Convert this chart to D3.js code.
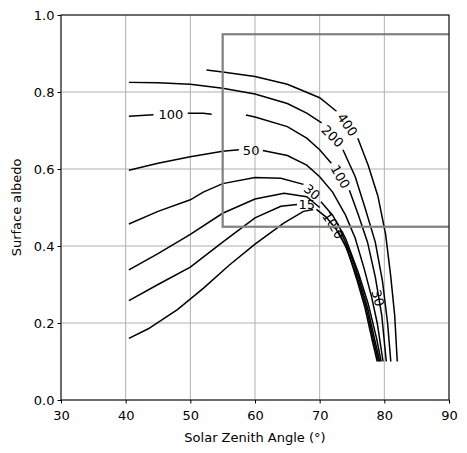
<!DOCTYPE html>
<html>
<head>
<meta charset="utf-8">
<script src="https://cdn.jsdelivr.net/npm/d3@7"></script>
<style>
  body { margin: 0; background: #fff; }
  text { font-family: "DejaVu Sans", sans-serif; }
</style>
</head>
<body>
<svg id="chart" width="467" height="453"></svg>
<script>
var xTicks = [30, 40, 50, 60, 70, 80, 90];
var yTicks = [0.0, 0.2, 0.4, 0.6, 0.8, 1.0];

// contour segments (gaps where inline labels sit)
var c400 = [[52.5,0.857],[55,0.852],[60,0.84],[65,0.82],[70,0.785],[72.6,0.75]];
var c400b = [[75.9,0.68],[77.5,0.61],[79,0.53],[80.2,0.43],[81,0.32],[81.6,0.22],[82.0,0.1]];
var c200 = [[40.5,0.825],[45,0.824],[50,0.82],[55,0.81],[60,0.795],[65,0.77],[68,0.745],[70.3,0.72]];
var c200b = [[73.6,0.65],[75.5,0.58],[77,0.5],[78.6,0.41],[79.7,0.31],[80.5,0.2],[81.0,0.1]];
var c100a = [[40.5,0.737],[44.3,0.741]];
var c100b = [[49.6,0.745],[52,0.745],[53.3,0.742]];
var c100c = [[58.6,0.74],[60,0.735],[65,0.71],[68,0.68],[70,0.65],[71.8,0.615]];
var c100d = [[74.6,0.545],[76,0.48],[77.4,0.41],[78.6,0.32],[79.6,0.22],[80.3,0.1]];
var c50 = [[40.5,0.597],[45,0.615],[50,0.632],[55,0.646],[57.5,0.65]];
var c50b = [[61.2,0.648],[65,0.635],[68,0.61],[70,0.58],[72,0.54],[74,0.48],[75.5,0.42],[76.9,0.34],[78.0,0.27],[78.9,0.2],[79.8,0.1]];
var c30 = [[40.5,0.457],[45,0.49],[50,0.52],[52,0.54],[55,0.562],[60,0.578],[64,0.576],[67.5,0.56]];
var c30b = [[70.2,0.515],[72,0.48],[74,0.42],[76,0.33],[77.5,0.25],[78.8,0.16],[79.5,0.1]];
var c15 = [[40.5,0.338],[45,0.38],[50,0.43],[55,0.485],[60,0.522],[64.5,0.537],[68,0.528],[70,0.5]];
var c15b = [[73.2,0.44],[74.5,0.39],[76,0.32],[77.4,0.24],[78.6,0.15],[79.3,0.1]];
var c10 = [[40.5,0.258],[45,0.3],[50,0.345],[55,0.41],[60,0.473],[64,0.503],[66.5,0.508]];
var c10b = [[69.5,0.495],[71,0.475],[72.5,0.445],[74,0.4],[75.8,0.32],[77.2,0.24],[78.4,0.15],[79.1,0.1]];
var c5 = [[40.5,0.16],[43.5,0.185],[48,0.235],[52,0.29],[56,0.35],[60,0.405],[64.5,0.46],[67.5,0.49],[69,0.495]];
var c5b = [[72.8,0.44],[74.3,0.39],[75.8,0.31],[77.0,0.24],[78.2,0.15],[78.9,0.1]];
var segments = [c400, c400b, c200, c200b, c100a, c100b, c100c, c100d, c50, c50b,
  c30, c30b, c15, c15b, c10, c10b, c5, c5b];

var labelText = ["400", "200", "100", "100", "50", "30", "15", "10", "20", "30"];
var labelX = [74.3, 72.0, 47.0, 73.2, 59.4, 68.8, 68.0, 71.6, 72.6, 79.0];
var labelY = [0.715, 0.685, 0.742, 0.58, 0.649, 0.54, 0.507, 0.467, 0.44, 0.265];
var labelAngle = [55, 45, 0, 60, 0, 40, 0, 55, 60, 75];

var boxX = [55, 95];
var boxY = [0.45, 0.95];

var width = 467, height = 453;
var margin = { top: 15, right: 18, bottom: 53, left: 61 };

var svg = d3.select("#chart");

var xScale = d3.scaleLinear().domain([30, 90]).range([margin.left, width - margin.right]);
var yScale = d3.scaleLinear().domain([0, 1]).range([height - margin.bottom, margin.top]);

// grid
var grid = svg.append("g").attr("class", "grid");
xTicks.forEach(function (d) {
  grid.append("line")
    .attr("x1", xScale(d)).attr("x2", xScale(d))
    .attr("y1", yScale(0)).attr("y2", yScale(1))
    .style("stroke", "#b0b0b0").style("stroke-width", "1px");
});
yTicks.forEach(function (d) {
  grid.append("line")
    .attr("y1", yScale(d)).attr("y2", yScale(d))
    .attr("x1", xScale(30)).attr("x2", xScale(90))
    .style("stroke", "#b0b0b0").style("stroke-width", "1px");
});

svg.append("clipPath").attr("id", "plotclip").append("rect")
  .attr("x", margin.left).attr("y", margin.top)
  .attr("width", width - margin.left - margin.right)
  .attr("height", height - margin.top - margin.bottom);

var plot = svg.append("g").attr("clip-path", "url(#plotclip)");

var line = d3.line().x(d => xScale(d[0])).y(d => yScale(d[1]));
plot.selectAll("path.c").data(segments).enter().append("path")
  .attr("class", "c")
  .attr("d", line)
  .attr("fill", "none").attr("stroke", "black").attr("stroke-width", 1.5);

plot.selectAll("text.lab").data(labelText).enter().append("text")
  .attr("class", "lab")
  .attr("transform", (d, i) => "translate(" + xScale(labelX[i]) + "," + yScale(labelY[i]) + ") rotate(" + labelAngle[i] + ")")
  .attr("text-anchor", "middle").attr("dy", "0.35em")
  .attr("font-size", 13)
  .text(d => d);

// box
plot.append("rect")
  .attr("x", xScale(boxX[0])).attr("y", yScale(boxY[1]))
  .attr("width", xScale(boxX[1]) - xScale(boxX[0]))
  .attr("height", yScale(boxY[0]) - yScale(boxY[1]))
  .attr("fill", "none").attr("stroke", "gray").attr("stroke-width", 2.2);

// axes
var xAxis = d3.axisBottom(xScale).tickValues(xTicks).tickSize(3.5).tickFormat(d3.format("d"));
var yAxis = d3.axisLeft(yScale).tickValues(yTicks).tickSize(3.5).tickFormat(d3.format(".1f"));
var gx = svg.append("g").attr("transform", "translate(0," + yScale(0) + ")").call(xAxis);
var gy = svg.append("g").attr("transform", "translate(" + xScale(30) + ",0)").call(yAxis);
[gx, gy].forEach(function (g) {
  g.select(".domain").remove();
  g.selectAll("text").attr("font-size", 13).attr("font-family", "DejaVu Sans").attr("fill", "black");
  g.selectAll("line").attr("stroke", "black");
});
gx.selectAll("text").attr("dy", "1.05em");

svg.append("rect")
  .attr("x", margin.left).attr("y", margin.top)
  .attr("width", width - margin.left - margin.right)
  .attr("height", height - margin.top - margin.bottom)
  .attr("fill", "none").attr("stroke", "black").attr("stroke-width", 1);

svg.append("text").attr("x", xScale(60)).attr("y", 442)
  .attr("text-anchor", "middle").attr("font-size", 13).text("Solar Zenith Angle (°)");
svg.append("text").attr("transform", "translate(21," + yScale(0.5) + ") rotate(-90)")
  .attr("text-anchor", "middle").attr("font-size", 13).text("Surface albedo");
</script>
</body>
</html>
